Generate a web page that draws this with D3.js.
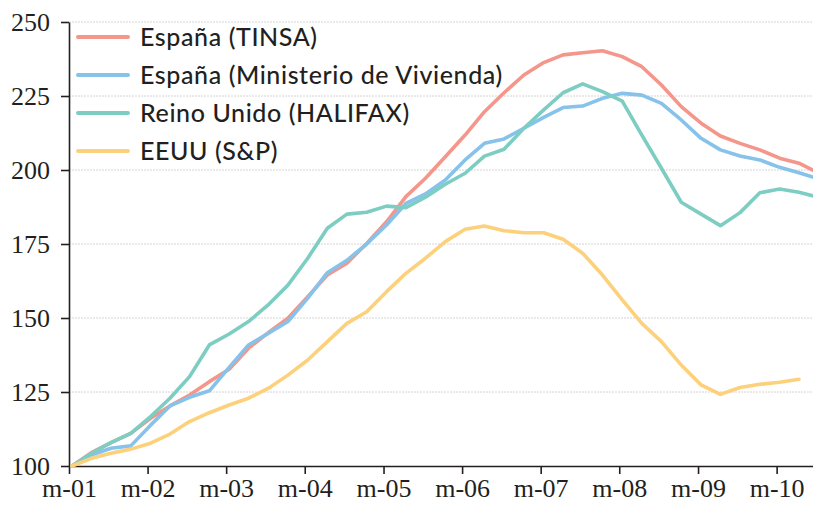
<!DOCTYPE html>
<html>
<head>
<meta charset="utf-8">
<script src="https://cdn.jsdelivr.net/npm/d3@7"></script>
<style>
  body { margin: 0; background: #fff; }
  svg { display: block; }
</style>
</head>
<body>
<div id="chart"></div>
<script>
// quarterly index (base 100 = first quarter 2001)
var quarters = d3.timeMonth.every(3).range(new Date(2001, 0, 1), new Date(2010, 9, 1));

var tinsa = [100, 104.5, 107.9, 111.0, 116.1, 120.3, 124.0, 128.5, 132.7, 139.8,
    145.0, 149.9, 157.2, 164.5, 168.5, 175.2, 182.5, 191.0, 197.2, 204.5,
    211.8, 219.7, 226.1, 232.1, 236.3, 238.9, 239.6, 240.3, 238.3, 234.9,
    228.7, 221.4, 215.8, 211.5, 209.0, 206.8, 204.0, 202.3, 199.0];

var ministerio = [100, 103.7, 106.0, 106.8, 113.8, 120.3, 123.2, 125.4, 133.3, 140.9,
    144.8, 148.8, 156.7, 165.3, 169.5, 175.0, 181.4, 188.7, 191.9, 196.6,
    203.4, 209.0, 210.5, 214.1, 217.8, 221.1, 221.6, 224.2, 225.9, 225.3,
    222.5, 216.9, 210.7, 206.8, 204.7, 203.4, 200.9, 199.1, 197.0];

var halifax = [100, 104.3, 107.9, 111.0, 116.7, 122.9, 130.2, 140.9, 144.6, 148.8,
    154.4, 161.1, 170.2, 180.3, 185.1, 185.7, 187.8, 187.3, 190.8, 195.2,
    198.9, 204.7, 207.0, 214.1, 220.3, 226.1, 229.1, 226.5, 223.3, 211.8,
    200.6, 189.1, 185.1, 181.2, 185.6, 192.3, 193.6, 192.5, 190.8];

var spUSA = [100, 102.6, 104.3, 105.7, 107.7, 110.8, 115.0, 118.0, 120.6, 122.9,
    126.2, 130.7, 135.8, 142.0, 148.2, 152.1, 158.9, 165.1, 170.2, 175.8,
    180.0, 181.1, 179.5, 178.8, 178.8, 176.6, 171.9, 164.5, 156.1, 148.2,
    142.0, 134.1, 127.4, 124.2, 126.5, 127.6, 128.3, 129.3];

var seriesNames = ["España (TINSA)", "España (Ministerio de Vivienda)", "Reino Unido (HALIFAX)", "EEUU (S&P)"];
var seriesColors = ["#f4968a", "#86c2ea", "#7dcdc3", "#fdd17c"];
var seriesValues = [tinsa, ministerio, halifax, spUSA];

var yTicks = [100, 125, 150, 175, 200, 225, 250];
var xTickYears = [2001, 2002, 2003, 2004, 2005, 2006, 2007, 2008, 2009, 2010];
var xTickLabels = ["m-01", "m-02", "m-03", "m-04", "m-05", "m-06", "m-07", "m-08", "m-09", "m-10"];

var width = 813;
var height = 505;
var plotLeft = 69, plotRight = 813, plotTop = 22, plotBottom = 466;

var x = d3.scaleTime()
    .domain([new Date(2001, 0, 1), new Date(2010, 5, 19)])
    .range([plotLeft, plotRight]);

var y = d3.scaleLinear()
    .domain([100, 250])
    .range([plotBottom, plotTop]);

var svg = d3.select('#chart')
    .append('svg')
    .attr('width', width)
    .attr('height', height);

svg.append('defs').append('clipPath')
    .attr('id', 'plot-clip')
    .append('rect')
    .attr('x', plotLeft)
    .attr('y', 0)
    .attr('width', plotRight - plotLeft)
    .attr('height', height);

// grid
svg.append('g')
    .selectAll('line')
    .data(yTicks.slice(1))
    .enter()
    .append('line')
    .attr('x1', plotLeft)
    .attr('x2', plotRight)
    .attr('y1', d => y(d))
    .attr('y2', d => y(d))
    .attr('stroke', '#d4d4d4')
    .attr('stroke-width', 1)
    .attr('stroke-dasharray', '2,1');

// y axis
var yAxis = svg.append('g')
    .attr('transform', `translate(${plotLeft},0)`)
    .call(d3.axisLeft(y).tickValues(yTicks).tickSize(8).tickPadding(11).tickSizeOuter(0));

// x axis
var xAxis = svg.append('g')
    .attr('transform', `translate(0,${plotBottom})`)
    .call(d3.axisBottom(x)
        .tickValues(xTickYears.map(yr => new Date(yr, 0, 1)))
        .tickFormat((d, i) => xTickLabels[i])
        .tickSize(8).tickPadding(5).tickSizeOuter(0));

[yAxis, xAxis].forEach(function(ax) {
    ax.select('.domain').attr('stroke', '#231f20').attr('stroke-width', 1.6);
    ax.selectAll('.tick line').attr('stroke', '#231f20').attr('stroke-width', 1.6);
    ax.selectAll('text')
        .attr('fill', '#231f20')
        .style('font-family', '"Liberation Serif", "DejaVu Serif", serif')
        .style('font-size', '26px');
});

// lines
var line = d3.line()
    .x((d, i) => x(d3.timeDay.offset(quarters[i], 14)))
    .y(d => y(d));

svg.append('g')
    .attr('clip-path', 'url(#plot-clip)')
    .selectAll('path')
    .data(seriesValues)
    .enter()
    .append('path')
    .attr('d', d => line(d))
    .attr('fill', 'none')
    .attr('stroke', (d, i) => seriesColors[i])
    .attr('stroke-width', 3.6)
    .attr('stroke-linejoin', 'round')
    .attr('stroke-linecap', 'round');

// legend
var legend = svg.append('g')
    .selectAll('g')
    .data(seriesNames)
    .enter()
    .append('g')
    .attr('transform', (d, i) => `translate(78,${37 + i * 38})`);

legend.append('line')
    .attr('x1', 0)
    .attr('x2', 50)
    .attr('stroke', (d, i) => seriesColors[i])
    .attr('stroke-width', 4)
    .attr('stroke-linecap', 'round');

legend.append('text')
    .attr('x', 62)
    .attr('dy', '0.36em')
    .attr('fill', '#231f20')
    .style('font-family', 'Lato, "Open Sans", sans-serif')
    .style('font-size', '25px')
    .style('font-weight', 500)
    .style('letter-spacing', '0.6px')
    .text(d => d);
</script>
</body>
</html>
